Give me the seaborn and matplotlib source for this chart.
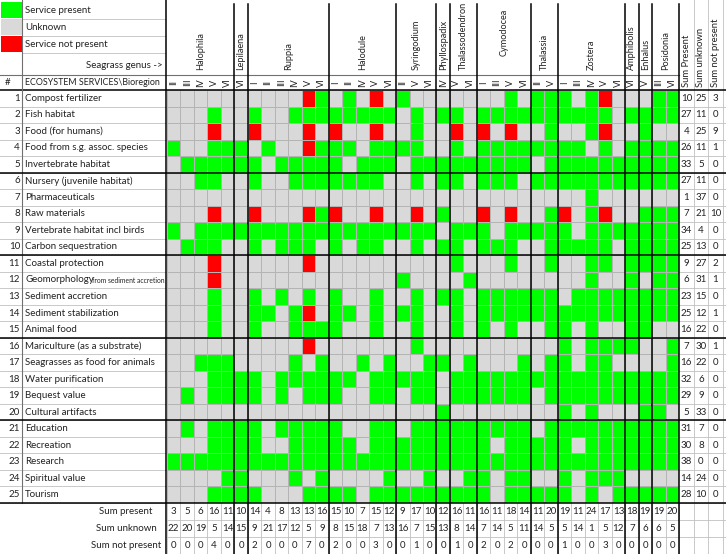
"""
Seagrass ecosystem services by genus and bioregion - status matrix
(present / unknown / not present), drawn as a seaborn heatmap with
spreadsheet-like labels and row/column sums.
"""

import matplotlib
import matplotlib.pyplot as plt
import numpy as np
import pandas as pd
import seaborn as sns
from matplotlib.colors import ListedColormap

matplotlib.use("Agg")

GENERA = ["Halophila", "Lepilaena", "Ruppia", "Halodule", "Syringodium",
          "Phyllospadix", "Thalassodendron", "Cymodocea", "Thalassia",
          "Zostera", "Amphibolis", "Enhalus", "Posidonia"]

BIOREGIONS = [["II", "III", "IV", "V", "VI"], ["VI"],
              ["I", "II", "III", "IV", "V", "VI"], ["I", "II", "IV", "V", "VI"],
              ["II", "V", "VI"], ["IV"], ["V", "VI"], ["I", "III", "V", "VI"],
              ["II", "V"], ["I", "III", "IV", "V", "VI"], ["VI"], ["V"],
              ["III", "VI"]]

SERVICES = ["Compost fertilizer", "Fish habitat", "Food (for humans)",
            "Food from s.g. assoc. species", "Invertebrate habitat",
            "Nursery (juvenile habitat)", "Pharmaceuticals", "Raw materials",
            "Vertebrate habitat incl birds", "Carbon sequestration",
            "Coastal protection", "Geomorphology", "Sediment accretion",
            "Sediment stabilization", "Animal food",
            "Mariculture (as a substrate)", "Seagrasses as food for animals",
            "Water purification", "Bequest value", "Cultural artifacts",
            "Education", "Recreation", "Research", "Spiritual value", "Tourism"]

# 1 = service present, 0 = unknown, 2 = service not present
# (one group of digits per genus, same order as GENERA / BIOREGIONS)
STATUS = [
    "00000 0 000021 01020 100 0 00 0010 11 10120 0 0 11",
    "00010 0 100111 11111 010 1 10 1111 11 11110 1 1 11",
    "00020 0 200020 20020 010 0 20 2020 01 00120 0 1 00",
    "10011 1 010021 11011 110 0 10 1111 11 11010 1 1 11",
    "01111 1 101111 10111 011 1 11 1111 01 11111 1 1 11",
    "00110 0 100111 11110 010 1 10 1110 11 11111 1 1 11",
    "00000 0 000000 00000 000 0 00 0000 00 00100 0 0 00",
    "00020 0 200021 20020 020 1 00 2020 01 20120 0 1 11",
    "10111 1 111111 11111 111 0 11 1011 11 10111 1 1 11",
    "01110 0 101110 10110 010 1 10 1110 01 11110 1 1 11",
    "00020 0 000020 00000 000 0 10 0010 01 00110 1 1 11",
    "00020 0 000000 00000 100 0 01 0000 00 00100 1 0 11",
    "00010 0 101010 10010 010 1 10 1111 11 01111 1 1 11",
    "00010 0 110120 11010 110 0 10 1111 11 11111 1 1 11",
    "00010 0 100111 10010 010 0 10 1010 01 10100 1 1 00",
    "00000 0 000020 00000 010 0 00 0000 00 10111 1 0 01",
    "00111 0 000101 00101 001 1 01 0001 01 10110 0 0 01",
    "00011 1 101111 11011 111 0 11 1111 11 11111 1 1 11",
    "01011 1 101011 10011 011 0 11 1111 01 11111 1 1 11",
    "00000 0 000000 00000 000 1 00 0000 00 10100 0 1 10",
    "01011 1 101111 10011 011 1 11 1111 01 11111 1 1 11",
    "00011 1 100111 11011 111 1 11 1011 11 10111 1 1 11",
    "11111 1 111111 11111 111 1 11 1111 11 11111 1 1 11",
    "00001 1 000101 00001 001 0 01 1011 00 10111 0 0 00",
    "00011 1 100011 11011 111 1 11 1011 11 10101 1 1 11",
]

LEGEND = ["Service present", "Unknown", "Service not present"]
SUM_HEADERS = ["Sum Present", "Sum unknown", "Sum not present"]
SUM_ROWS = ["Sum present", "Sum unknown", "Sum not present"]

GREEN, GRAY, RED = "#00ff00", "#d9d9d9", "#ff0000"

# --- build the matrix ------------------------------------------------------
grid = np.array([[int(c) for c in row.replace(" ", "")] for row in STATUS])
columns = [f"{g} {b}" for g, bs in zip(GENERA, BIOREGIONS) for b in bs]
df = pd.DataFrame(grid, index=SERVICES, columns=columns)

row_sums = pd.DataFrame({
    "present": (df == 1).sum(axis=1),
    "unknown": (df == 0).sum(axis=1),
    "not": (df == 2).sum(axis=1),
})
col_sums = [(df == 1).sum(axis=0), (df == 0).sum(axis=0), (df == 2).sum(axis=0)]

# --- layout (pixels) ---------------------------------------------------------
W, H = 726, 554
X0, X1 = 167, 679          # data columns
Y0, Y1 = 90, 503           # service rows
CW = (X1 - X0) / df.shape[1]
RH = (Y1 - Y0) / df.shape[0]
SW = 14.6                  # width of the sum columns
BH = (H - Y1) / 3          # height of the bottom sum rows

plt.rcParams["font.family"] = ["Lato", "DejaVu Sans"]
plt.rcParams["text.color"] = "#222222"

fig = plt.figure(figsize=(W / 100, H / 100), dpi=100)
ax = fig.add_axes([X0 / W, 1 - Y1 / H, (X1 - X0) / W, (Y1 - Y0) / H])
sns.heatmap(df, ax=ax, cmap=ListedColormap([GRAY, GREEN, RED]),
            vmin=-0.5, vmax=2.5, cbar=False, linewidths=0.5,
            linecolor="#b4b4b4", xticklabels=False, yticklabels=False)
ax.set_xlabel("")
ax.set_ylabel("")

ov = fig.add_axes([0, 0, 1, 1], facecolor="none")
ov.set_xlim(0, W)
ov.set_ylim(H, 0)
ov.axis("off")

thin = dict(color="#c0c0c0", lw=0.6)
dark = dict(color="#707070", lw=0.8)
thick = dict(color="black", lw=1.1)
fs = 7.0

# legend block
for i, (label, col) in enumerate(zip(LEGEND, [GREEN, GRAY, RED])):
    top = 2 + i * 17
    ov.add_patch(plt.Rectangle((1, top), 21, 16, color=col, lw=0))
    ov.text(25, top + 8.5, label, fontsize=fs, va="center", ha="left")
    ov.plot([22, 165], [top + 16.5, top + 16.5], **thin)
ov.text(163, 66, "Seagrass genus ->", fontsize=fs, ha="right", va="center")

# genus names and bioregion labels
starts = np.cumsum([0] + [len(b) for b in BIOREGIONS])
for g, name in enumerate(GENERA):
    xa, xb = X0 + starts[g] * CW, X0 + starts[g + 1] * CW
    y_text = 56 if name == "Cymodocea" else 70
    ov.text((xa + xb) / 2, y_text, name, rotation=90, fontsize=6.6,
            ha="center", va="bottom")
    for k, b in enumerate(BIOREGIONS[g]):
        ov.text(xa + (k + 0.5) * CW, 82.5, b, rotation=90, fontsize=6.6,
                ha="center", va="center")
for k, name in enumerate(SUM_HEADERS):
    ov.text(X1 + (k + 0.5) * SW, 87, name, rotation=90, fontsize=6.8,
            ha="center", va="bottom")

ov.text(5, 82.5, "#", fontsize=fs, va="center")
ov.text(25, 82.5, "ECOSYSTEM SERVICES\\Bioregion", fontsize=6.4, va="center")

# service rows with their sums
for r, name in enumerate(SERVICES):
    yc = Y0 + (r + 0.5) * RH
    ov.text(20, yc, str(r + 1), fontsize=fs, ha="right", va="center")
    ov.text(25, yc, name, fontsize=fs, ha="left", va="center")
    if name == "Geomorphology":
        ov.text(92, yc + 0.8, "from sediment accretion", fontsize=4.9,
                ha="left", va="center")
    for k, v in enumerate(row_sums.iloc[r]):
        ov.text(X1 + (k + 0.5) * SW, yc, str(v), fontsize=fs, ha="center",
                va="center")
    ov.plot([0, 166], [Y0 + (r + 1) * RH] * 2, **thin)
    ov.plot([X1, W], [Y0 + (r + 1) * RH] * 2, **thin)

# bottom sum rows
for k, name in enumerate(SUM_ROWS):
    yc = Y1 + (k + 0.5) * BH
    ov.text(126, yc, name, fontsize=fs, ha="center", va="center")
    for c, v in enumerate(col_sums[k]):
        ov.text(X0 + (c + 0.5) * CW, yc, str(v), fontsize=fs, ha="center",
                va="center")
    ov.plot([X0, W], [Y1 + (k + 1) * BH] * 2, **thin)
for c in range(df.shape[1] + 1):
    ov.plot([X0 + c * CW] * 2, [Y1, H], **thin)

# sum column separators
for k in range(1, 4):
    ov.plot([X1 + k * SW] * 2, [0, H], **thin)

# header lines
ov.plot([0, X1], [75, 75], **dark)
ov.plot([0, W], [Y0, Y0], **thick)
ov.plot([22, 22], [0, Y1], **dark)

# block separators every five services
for r in range(5, 25, 5):
    ov.plot([0, W], [Y0 + r * RH] * 2, **thick)
ov.plot([0, W], [Y1, Y1], **thick)

# genus separators
ov.plot([166, 166], [0, H], **thick)
for s in starts[1:]:
    ov.plot([X0 + s * CW] * 2, [4, H], **thick)

fig.savefig("out.png", dpi=100)
